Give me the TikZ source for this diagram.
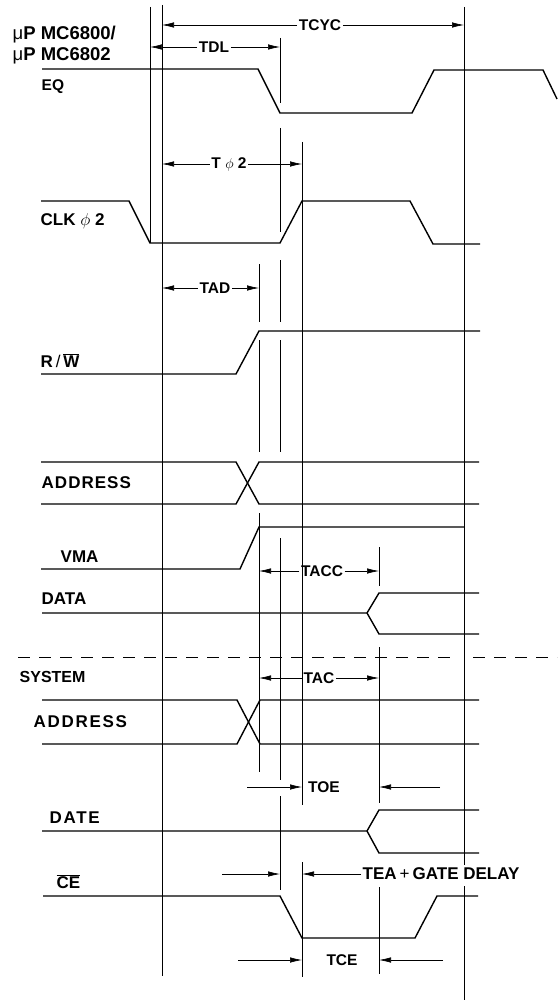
\documentclass[tikz,border=0pt]{standalone}
\usepackage{fontspec}
\setmainfont{Liberation Sans}
\newfontfamily\spacedfont[LetterSpace=10]{Liberation Sans}
\newfontfamily\slightfont[LetterSpace=6]{Liberation Sans}
\usetikzlibrary{arrows.meta}
\begin{document}
\begin{tikzpicture}[x=1pt,y=-1pt,
  sig/.style={line width=1.4pt, line join=miter},
  guide/.style={line width=0.65pt},
  dim/.style={line width=0.65pt, -{Latex[length=12pt,width=5.5pt]}},
  lbl/.style={font=\fontsize{15.5}{18}\selectfont\bfseries, inner sep=1.5pt},
  sidelbl/.style={font=\fontsize{17}{20}\selectfont\bfseries, inner sep=1.5pt, anchor=west},
  slbl/.style={font=\fontsize{17}{20}\selectfont\spacedfont\bfseries, inner sep=1.5pt, anchor=west}]
\useasboundingbox (0,0) rectangle (557,1000);

% guide x positions
\coordinate (xA) at (150,0);
\coordinate (xB) at (162,0);
\coordinate (xC) at (259,0);
\coordinate (xD) at (280,0);
\coordinate (xE) at (302,0);
\coordinate (xF) at (379,0);
\coordinate (xG) at (464,0);

% vertical guide lines
\draw[guide] (150,7) -- (150,243);
\draw[guide] (162,5) -- (162,976);
\draw[guide] (259,264) -- (259,322) (259,340) -- (259,452) (259,513) -- (259,772);
\draw[guide] (280,38) -- (280,103) (280,128) -- (280,232) (280,260) -- (280,322)
             (280,340) -- (280,452) (280,538) -- (280,780) (280,796) -- (280,890);
\draw[guide] (302,142) -- (302,805) (302,862) -- (302,977);
\draw[guide] (379,547) -- (379,586) (379,647) -- (379,803) (379,887) -- (379,974);
\draw[guide] (464,7) -- (464,865) (464,886) -- (464,1000);

% signals
\draw[sig] (42,69) -- (258,69) -- (280,113) -- (412,113) -- (434,70) -- (543,70) -- (557,99);
\draw[sig] (41,201) -- (129,201) -- (150,243) -- (280,243) -- (302,201) -- (410,201) -- (433,244) -- (480,244);
\draw[sig] (41,374) -- (236,374) -- (259,331) -- (480,331);
\draw[sig] (41,462) -- (236,462) -- (259,504) -- (479,504);
\draw[sig] (41,504) -- (236,504) -- (259,462) -- (479,462);
\draw[sig] (41,569) -- (240,569) -- (259,527) -- (464,527);
\draw[sig] (42,613) -- (367,613) -- (379,593) -- (479,593);
\draw[sig] (367,613) -- (379,634) -- (479,634);
\draw[sig] (42,700) -- (237,700) -- (260,744) -- (479,744);
\draw[sig] (42,744) -- (237,744) -- (260,700) -- (479,700);
\draw[sig] (42,831) -- (367,831) -- (379,810) -- (479,810);
\draw[sig] (367,831) -- (379,853) -- (479,853);
\draw[sig] (43,896) -- (280,896) -- (302,938) -- (415,938) -- (437,896) -- (478,896);

% dashed separator
\draw[line width=0.8pt, dash pattern=on 12pt off 9pt] (18,657) -- (455,657) (473,657) -- (557,657);

% signal labels
\node[sidelbl, font=\fontsize{18.5}{21}\selectfont\bfseries] (mpu1) at (11,35) {{\mdseries μ}P MC6800/};
\node[sidelbl, font=\fontsize{18.5}{21}\selectfont\bfseries] (mpu2) at (11,56) {{\mdseries μ}P MC6802};
\node[sidelbl, font=\fontsize{15.5}{18}\selectfont\bfseries] (eq) at (40,87) {EQ};
\node[sidelbl] (clk) at (39,221) {CLK $\phi$ 2};
\node[sidelbl] (rw) at (39,361) {R\,{\mdseries /}\,$\overline{\mbox{W}}$};
\node[sidelbl, font=\fontsize{17}{20}\selectfont\slightfont\bfseries] (addr1) at (40,483) {ADDRESS};
\node[sidelbl] (vma) at (59,557) {VMA};
\node[sidelbl] (data) at (40,599) {DATA};
\node[sidelbl, font=\fontsize{16}{19}\selectfont\bfseries] (sys) at (18,677) {SYSTEM};
\node[slbl] (addr2) at (32,722) {ADDRESS};
\node[slbl] (date) at (48,818) {DATE};
\node[sidelbl] (ce) at (55,882) {$\overline{\mbox{CE}}$};

% timing labels and dimension arrows
\node[lbl] (tcyc) at (320,25) {TCYC};
\draw[dim] (tcyc.west) -- (tcyc.west -| xB);
\draw[dim] (tcyc.east) -- (tcyc.east -| xG);

\node[lbl] (tdl) at (214,47) {TDL};
\draw[dim] (tdl.west) -- (tdl.west -| xA);
\draw[dim] (tdl.east) -- (tdl.east -| xD);

\node[lbl] (tphi) at (229,164) {T $\phi$ 2};
\draw[dim] (tphi.west) -- (tphi.west -| xB);
\draw[dim] (tphi.east) -- (tphi.east -| xE);

\node[lbl] (tad) at (215,288) {TAD};
\draw[dim] (tad.west) -- (tad.west -| xB);
\draw[dim] (tad.east) -- (tad.east -| xC);

\node[lbl] (tacc) at (322,571) {TACC};
\draw[dim] (tacc.west) -- (tacc.west -| xC);
\draw[dim] (tacc.east) -- (tacc.east -| xF);

\node[lbl] (tac) at (319,678) {TAC};
\draw[dim] (tac.west) -- (tac.west -| xC);
\draw[dim] (tac.east) -- (tac.east -| xF);

\node[lbl] (toe) at (324,787) {TOE};
\coordinate (toeL) at (247,787);
\coordinate (toeR) at (440,787);
\draw[dim] (toeL) -- (toeL -| xE);
\draw[dim] (toeR) -- (toeR -| xF);

\node[lbl, font=\fontsize{17}{20}\selectfont\bfseries, anchor=west] (tea) at (361,874) {TEA\hspace{3pt}{\mdseries +}\hspace{3pt}GATE DELAY};
\coordinate (teaL) at (222,874);
\draw[dim] (teaL) -- (teaL -| xD);
\draw[dim] (tea.west) -- (tea.west -| xE);

\node[lbl] (tce) at (342,960) {TCE};
\coordinate (tceL) at (238,960);
\coordinate (tceR) at (443,960);
\draw[dim] (tceL) -- (tceL -| xE);
\draw[dim] (tceR) -- (tceR -| xF);
\end{tikzpicture}
\end{document}
